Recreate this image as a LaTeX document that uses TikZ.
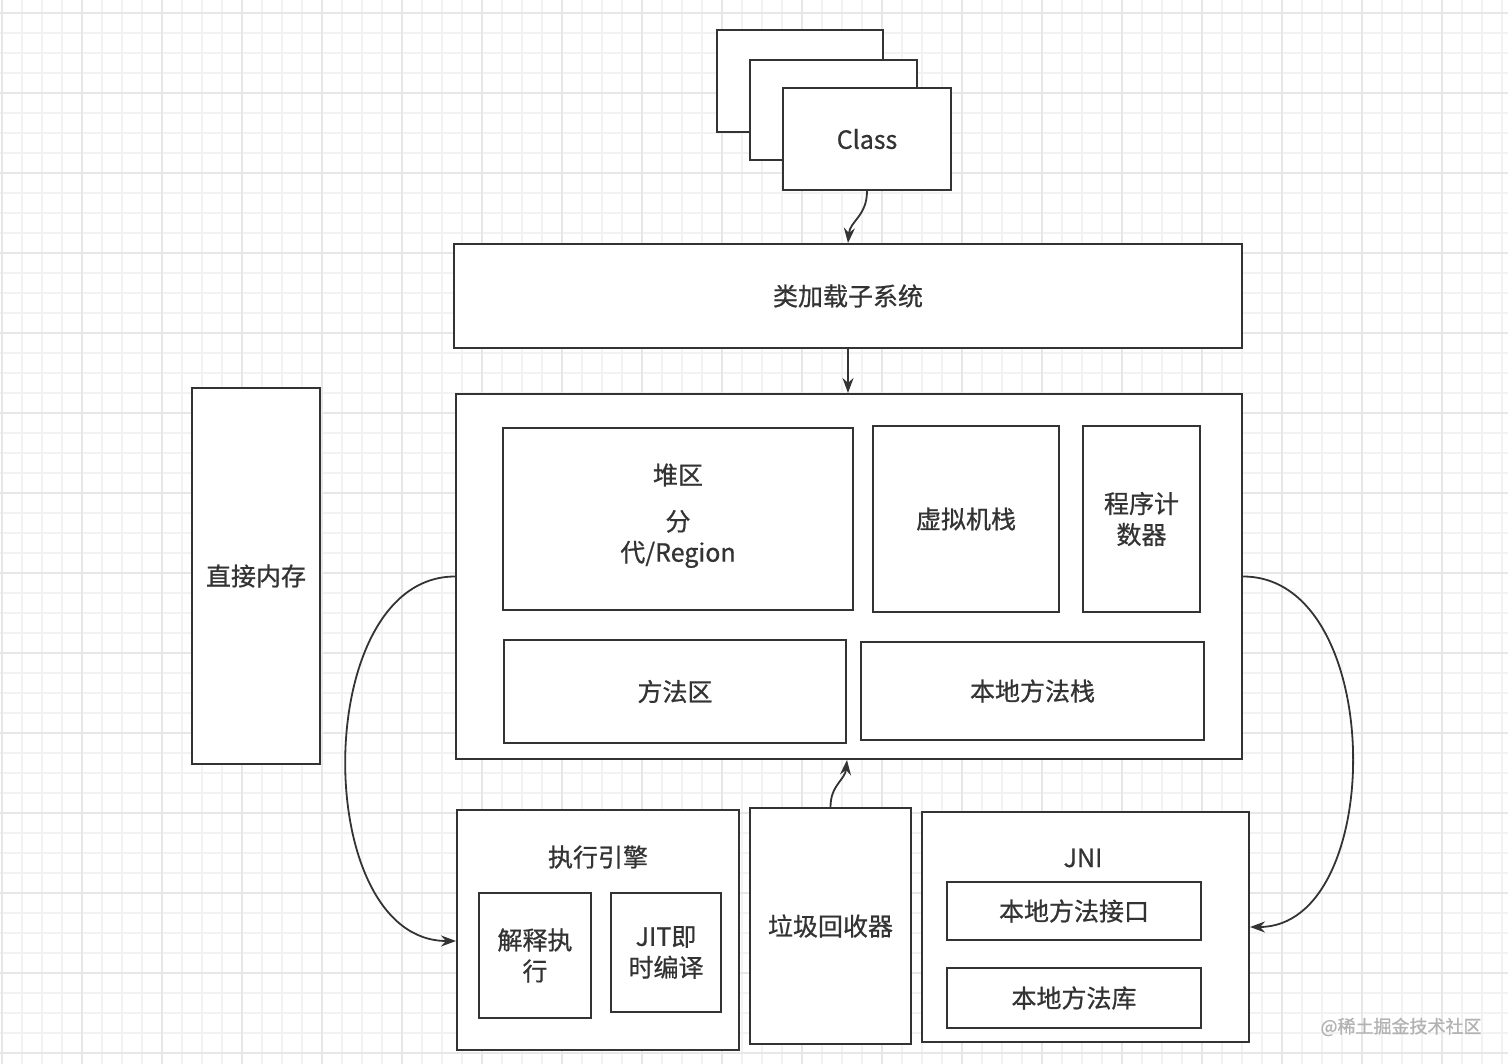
\documentclass[tikz,border=0pt]{standalone}
\usepackage{fontspec}
\setmainfont{Noto Sans CJK SC}[FakeBold=0.7]
\usepackage{tikz}
\usetikzlibrary{arrows.meta}
\definecolor{ink}{HTML}{333333}
\definecolor{gridfine}{HTML}{F2F2F2}
\definecolor{gridbold}{HTML}{E7E7E7}

\tikzset{
  box/.style={draw=ink, line width=2pt, fill=white, inner sep=0pt, text=ink, align=center},
  lbl/.style={text=ink, align=center, inner sep=0pt},
  flow/.style={draw=ink, line width=1.8pt, -{Stealth[length=15pt,width=11pt]}},
}

\begin{document}
\begin{tikzpicture}[x=1pt, y=-1pt, font=\fontsize{25}{31}\selectfont]
            \useasboundingbox (0,0) rectangle (1508,1064);
            \fill[white] (0,0) rectangle (1508,1064);
            % paper grid
            \foreach \gx in {2,22,...,1502} \draw[gridfine, line width=1.6pt] (\gx,0) -- (\gx,1064);
            \foreach \gy in {13,33,...,1053} \draw[gridfine, line width=1.6pt] (0,\gy) -- (1508,\gy);
            \foreach \gx in {2,82,...,1502} \draw[gridbold, line width=2pt] (\gx,0) -- (\gx,1064);
            \foreach \gy in {13,93,...,1053} \draw[gridbold, line width=2pt] (0,\gy) -- (1508,\gy);
            % class files
            \node[box, minimum width=166pt, minimum height=102pt] (cls1) at (800,81) {};
            \node[box, minimum width=167pt, minimum height=100pt] (cls2) at (833.5,110) {};
            \node[box, minimum width=168pt, minimum height=102pt] (cls3) at (867,139) {Class};
            \node[box, minimum width=788pt, minimum height=104pt] (loader) at (848,296) {类加载子系统};
            % runtime data area
            \node[box, minimum width=786pt, minimum height=365pt] (runtime) at (849,576.5) {};
            \node[box, minimum width=350pt, minimum height=182pt] (heap) at (678,519) {};
            \node[lbl] (heapname) at (678,475) {堆区};
            \node[lbl] (heapgen) at (678,539) {分\\代/Region};
            \node[box, minimum width=186pt, minimum height=186pt] (vmstack) at (966,519) {虚拟机栈};
            \node[box, minimum width=117pt, minimum height=186pt] (pc) at (1141.5,519) {程序计\\数器};
            \node[box, minimum width=342pt, minimum height=103pt] (method) at (675,691.5) {方法区};
            \node[box, minimum width=343pt, minimum height=98pt] (nstack) at (1032.5,691) {本地方法栈};
            \node[box, minimum width=128pt, minimum height=376pt] (direct) at (256,576) {直接内存};
            % execution engine
            \node[box, minimum width=282pt, minimum height=240pt] (engine) at (598,930) {};
            \node[lbl] (enginename) at (598,857) {执行引擎};
            \node[box, minimum width=112pt, minimum height=125pt] (interp) at (535,955.5) {解释执\\行};
            \node[box, minimum width=110pt, minimum height=119pt] (jit) at (666,952.5) {JIT即\\时编译};
            \node[box, minimum width=161pt, minimum height=236pt] (gc) at (830.5,926) {垃圾回收器};
            % native interface
            \node[box, minimum width=327pt, minimum height=230pt] (jni) at (1085.5,927) {};
            \node[lbl] (jniname) at (1083,858) {JNI};
            \node[box, minimum width=254pt, minimum height=58pt] (nif) at (1074,911) {本地方法接口};
            \node[box, minimum width=254pt, minimum height=60pt] (nlib) at (1074,998) {本地方法库};
            % connectors
            \draw[flow] (cls3.south) .. controls +(0,25) and +(2,-22) .. (loader.north);
            \draw[flow] (loader.south) -- (loader.south |- runtime.north);
            \draw[flow] (gc.north) .. controls +(0,-22) and +(-2,20) .. ([xshift=-2pt]runtime.south);
            \draw[flow] (runtime.west) .. controls +(-145,0) and +(-146,0) .. ([yshift=-11pt]engine.west);
            \draw[flow] (runtime.east) .. controls +(144,0) and +(137,0) .. (jni.east);
            \node[text=gray!60, font=\fontsize{18}{18}\selectfont] (watermark) at (1401,1027) {@稀土掘金技术社区};
\end{tikzpicture}
\end{document}
